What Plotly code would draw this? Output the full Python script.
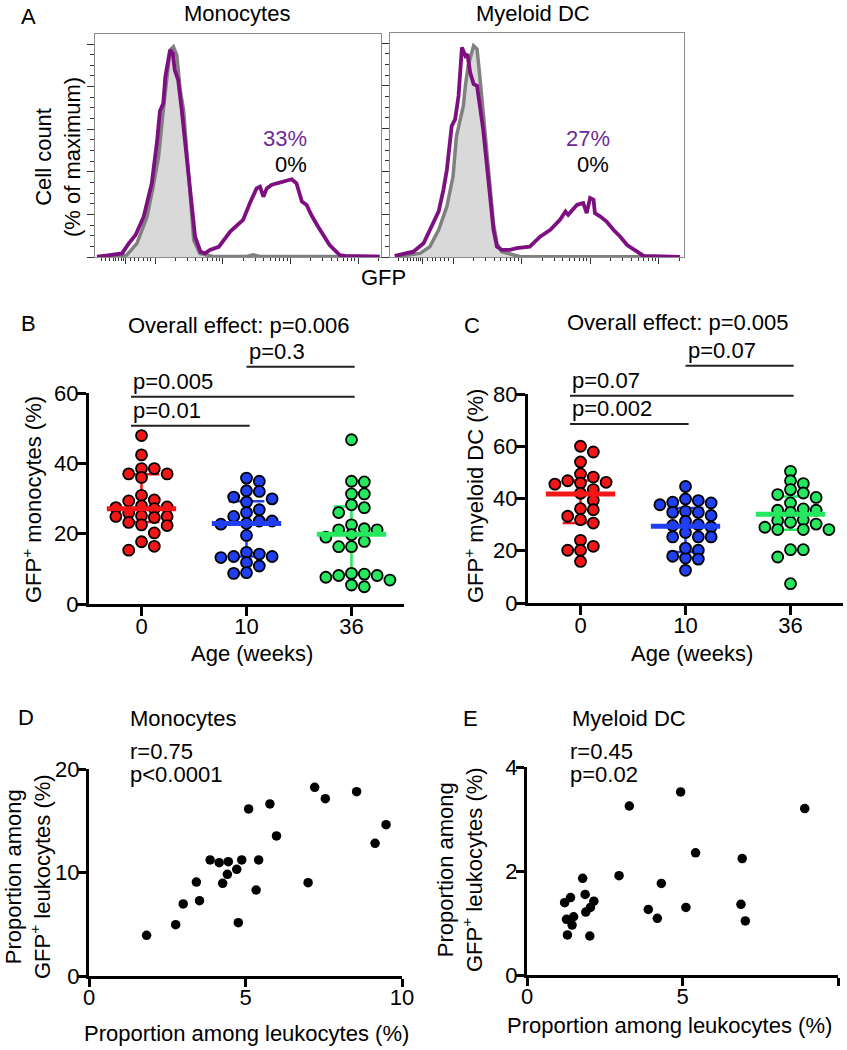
import numpy as np
import plotly.graph_objects as go

W, H = 847, 1050
FONT = "Liberation Sans, Arial, Helvetica, sans-serif"

# ---------- A: GFP histograms (x = log decades of GFP, y = % of maximum)
mono_gfp_x = [1.14, 1.51, 1.61, 1.71, 1.83, 1.88, 1.95, 2.03, 2.07, 2.12, 2.15, 2.22, 2.26, 2.29, 2.34,
              2.39, 2.44, 2.52, 2.59, 2.67, 2.74, 2.81, 2.94, 3.11, 3.30, 3.40, 3.50, 3.55, 3.60, 3.65,
              3.72, 3.80, 3.90, 4.02, 4.09, 4.17, 4.24, 4.31, 4.41, 4.51, 4.58, 4.73, 4.81, 5.32]
mono_gfp_y = [0.1, 1.7, 6.4, 10.3, 18.9, 25.2, 34.6, 54.9, 68.5, 72.2, 84.6, 97.2, 95.6, 87.8, 83.1,
              69.8, 54.9, 31.5, 9.5, 2.5, 1.7, 3.3, 4.8, 11.9, 17.4, 25.2, 32.2, 33.0, 28.3, 32.2,
              33.8, 34.6, 35.4, 36.5, 34.6, 26.0, 24.4, 19.7, 14.2, 9.5, 5.6, 0.9, 0.5, 0.2]
mono_ctrl_x = [1.14, 1.58, 1.73, 1.88, 1.97, 2.05, 2.12, 2.17, 2.22, 2.27, 2.32, 2.37, 2.42, 2.47,
               2.52, 2.57, 2.66, 2.86, 3.35, 3.45, 3.55, 5.32]
mono_ctrl_y = [0.2, 0.9, 6.4, 18.9, 33.0, 47.1, 69.0, 84.7, 97.2, 98.7, 94.8, 78.4, 69.0, 48.7,
               26.8, 8.0, 1.7, 0.2, 0.2, 1.0, 0.2, 0.2]
mdc_gfp_x = [1.15, 1.42, 1.57, 1.69, 1.79, 1.86, 1.91, 1.98, 2.03, 2.08, 2.13, 2.18, 2.21, 2.25, 2.30,
             2.35, 2.39, 2.44, 2.49, 2.54, 2.59, 2.64, 2.71, 2.83, 2.93, 3.12, 3.27, 3.42, 3.56, 3.64,
             3.68, 3.81, 3.90, 3.95, 4.00, 4.05, 4.07, 4.15, 4.24, 4.34, 4.44, 4.54, 4.68, 4.78, 5.31]
mdc_gfp_y = [0.5, 2.5, 6.4, 14.2, 21.3, 31.5, 40.8, 61.2, 64.3, 75.3, 98.0, 94.0, 94.8, 86.2, 80.8,
             80.0, 70.6, 59.6, 44.0, 28.3, 12.7, 4.8, 3.3, 3.3, 4.1, 4.8, 9.5, 12.7, 17.4, 21.3,
             19.7, 24.4, 25.2, 20.5, 27.6, 26.8, 20.5, 18.9, 16.6, 12.7, 9.5, 5.6, 2.5, 0.5, 0.1]
mdc_ctrl_x = [1.15, 1.52, 1.66, 1.79, 1.91, 2.00, 2.05, 2.15, 2.18, 2.22, 2.30, 2.35, 2.39, 2.44,
              2.49, 2.54, 2.59, 2.64, 2.71, 2.98, 5.31]
mdc_ctrl_y = [0.1, 1.7, 4.8, 12.7, 23.6, 37.7, 56.5, 70.6, 80.0, 89.3, 98.7, 97.2, 84.6, 67.5,
              51.8, 33.0, 15.8, 6.4, 2.5, 0.1, 0.1]
pct_gfp = ["33%", "27%"]
pct_ctrl = ["0%", "0%"]

# ---------- B / C: GFP+ cells by age
age_labels = ["0", "10", "36"]
mono_wk0 = [47.9, 42.4, 38.5, 38.5, 37.0, 37.0, 36.0, 30.9, 29.6, 29.3, 27.1, 27.6, 27.4, 27.9, 25.9,
            24.9, 24.6, 24.9, 25.1, 23.2, 22.3, 22.5, 20.2, 17.7, 15.3, 16.4]
mono_wk10 = [35.8, 34.9, 32.2, 32.0, 30.4, 29.0, 29.9, 26.0, 26.8, 24.9, 23.6, 23.6, 22.7, 22.9,
             19.5, 14.2, 13.5, 13.2, 13.5, 14.7, 11.8, 10.8, 8.7, 8.9]
mono_wk36 = [46.7, 34.9, 34.7, 31.3, 31.3, 28.2, 27.4, 26.0, 22.5, 21.1, 21.1, 21.4, 19.0, 19.7,
             17.8, 16.3, 16.3, 8.1, 8.7, 8.5, 8.1, 7.6, 6.8, 4.9, 5.4]
mono_median = [27.1, 22.9, 19.8]
mono_q1 = [23.3, 13.5, 8.3]
mono_q3 = [36.9, 29.2, 27.7]
mono_sig_from = [0, 0, 1]
mono_sig_to = [1, 2, 2]
mono_sig_text = ["p=0.01", "p=0.005", "p=0.3"]
mono_sig_y = [50.7, 58.9, 67.5]
mono_overall = "Overall effect: p=0.006"

mdc_wk0 = [60.0, 57.8, 54.0, 49.4, 46.2, 45.5, 46.8, 48.2, 45.9, 43.4, 42.0, 39.3, 36.1, 35.7, 33.2,
           31.9, 30.6, 24.0, 21.7, 20.2, 20.2, 15.9]
mdc_wk10 = [44.6, 39.2, 38.3, 39.8, 37.6, 38.6, 34.7, 35.1, 33.5, 34.7, 29.1, 31.3, 29.7, 27.0, 25.3,
            25.3, 25.3, 20.2, 17.9, 16.8, 17.2, 21.0, 12.5, 30.0]
mdc_wk36 = [50.4, 46.8, 45.7, 43.4, 41.5, 40.4, 42.1, 38.3, 35.5, 34.7, 35.5, 36.0, 30.2, 31.9, 31.6,
            30.9, 29.0, 28.1, 28.1, 28.1, 20.4, 20.4, 17.6, 7.4]
mdc_median = [41.7, 29.4, 34.0]
mdc_q1 = [30.6, 19.5, 28.0]
mdc_q3 = [46.9, 36.4, 40.8]
mdc_sig_from = [0, 0, 1]
mdc_sig_to = [1, 2, 2]
mdc_sig_text = ["p=0.002", "p=0.07", "p=0.07"]
mdc_sig_y = [68.5, 79.3, 90.8]
mdc_overall = "Overall effect: p=0.005"

# ---------- D / E: correlation
mono_leuko = [1.84, 2.77, 3.01, 3.43, 3.53, 3.87, 4.16, 4.27, 4.45, 4.42, 4.72, 4.77, 4.88, 5.10,
              5.34, 5.42, 5.78, 5.99, 7.00, 7.21, 7.55, 8.55, 9.14, 9.49]
mono_gfp_leuko = [3.93, 4.96, 6.96, 9.08, 7.28, 11.21, 10.95, 8.95, 11.05, 9.82, 10.31, 5.15, 11.21,
                  16.14, 8.31, 11.21, 16.62, 13.53, 9.02, 18.23, 17.13, 17.81, 12.82, 14.62]
mdc_leuko = [1.21, 1.40, 1.27, 1.50, 1.45, 1.30, 1.79, 1.87, 1.89, 2.04, 2.15, 2.02, 2.96, 3.29,
             3.90, 4.19, 4.32, 4.94, 5.11, 5.42, 6.92, 6.88, 7.02, 8.93]
mdc_gfp_leuko = [1.39, 1.49, 1.07, 1.12, 0.96, 0.77, 1.86, 1.55, 1.21, 1.30, 1.42, 0.75, 1.91, 3.25,
                 1.26, 1.09, 1.76, 3.52, 1.30, 2.35, 2.24, 1.36, 1.04, 3.20]

GROUP_COLORS = ["#f21616", "#1f3ff0", "#25e85f"]
PURPLE = "#7e0f80"

# subplot boxes in pixels: left, right, top, bottom
boxes = {
    "A1": (95, 381, 34, 257),
    "A2": (390, 684, 33, 257),
    "B": (89, 404, 393, 604),
    "C": (528, 843, 394, 603),
    "D": (89, 402, 769, 976),
    "E": (527, 838, 767, 975),
}
ranges = {
    "A1": ([1.11, 5.34], [0, 104.7]),
    "A2": ([1.08, 5.37], [0, 104.7]),
    "B": ([-0.5, 2.5], [0, 60]),
    "C": ([-0.5, 2.5], [0, 80]),
    "D": ([0, 10], [0, 20]),
    "E": ([0, 10], [0, 4]),
}
axid = {"A1": "", "A2": "2", "B": "3", "C": "4", "D": "5", "E": "6"}


def dom(key):
    x0, x1, y0, y1 = boxes[key]
    return [x0 / W, x1 / W], [1 - y1 / H, 1 - y0 / H]


def to_paper(key, x, y):
    x0, x1, y0, y1 = boxes[key]
    xr, yr = ranges[key]
    px = x0 + (x - xr[0]) / (xr[1] - xr[0]) * (x1 - x0)
    py = y1 - (y - yr[0]) / (yr[1] - yr[0]) * (y1 - y0)
    return px / W, 1 - py / H


def swarm(vals, center, key, step=0.122, diam=8.5):
    # simple beeswarm: columns of width `step`, avoid overlaps closer than `diam` px
    x0, x1, y0, y1 = boxes[key]
    xr, yr = ranges[key]
    sx = (x1 - x0) / (xr[1] - xr[0])
    sy = (y1 - y0) / (yr[1] - yr[0])
    placed = []
    xs = [center] * len(vals)
    for i in sorted(range(len(vals)), key=lambda k: -vals[k]):
        k = 0
        chosen = None
        while chosen is None:
            for off in ([0] if k == 0 else [k, -k]):
                if all(((off - o) * step * sx) ** 2 + ((vals[i] - v) * sy) ** 2 >= diam ** 2
                       for o, v in placed):
                    chosen = off
                    break
            k += 1
        placed.append((chosen, vals[i]))
        xs[i] = center + chosen * step
    return xs


fig = go.Figure()

# ---- A
hist_sets = [("A1", mono_ctrl_x, mono_ctrl_y, mono_gfp_x, mono_gfp_y),
             ("A2", mdc_ctrl_x, mdc_ctrl_y, mdc_gfp_x, mdc_gfp_y)]
for key, cx, cy, gx, gy in hist_sets:
    a = axid[key]
    fig.add_trace(go.Scatter(x=cx, y=cy, mode="lines", fill="tozeroy", fillcolor="#d9d9d9",
                             line=dict(color="#808080", width=3.5), xaxis="x" + a, yaxis="y" + a))
    fig.add_trace(go.Scatter(x=gx, y=gy, mode="lines", line=dict(color=PURPLE, width=3.8),
                             xaxis="x" + a, yaxis="y" + a))

major_t = [1.56, 2, 3, 4, 5]
minor_t = [1.2, 1.27, 1.33, 1.38, 1.42, 1.46, 1.5, 1.53, 1.63, 1.7, 1.75, 1.82, 1.88, 1.93]
for d in [2, 3, 4, 5]:
    for m in range(2, 10):
        v = d + np.log10(m)
        if v < 5.33:
            minor_t.append(round(float(v), 3))

# ---- B, C
panel_groups = {"B": [mono_wk0, mono_wk10, mono_wk36], "C": [mdc_wk0, mdc_wk10, mdc_wk36]}
panel_stats = {"B": (mono_median, mono_q1, mono_q3), "C": (mdc_median, mdc_q1, mdc_q3)}
for key in ["B", "C"]:
    a = axid[key]
    med, q1, q3 = panel_stats[key]
    for g, vals in enumerate(panel_groups[key]):
        col = GROUP_COLORS[g]
        cap = 0.17
        fig.add_trace(go.Scatter(
            x=[g, g, None, g - cap, g + cap, None, g - cap, g + cap],
            y=[q1[g], q3[g], None, q1[g], q1[g], None, q3[g], q3[g]],
            mode="lines", line=dict(color=col, width=2.5), xaxis="x" + a, yaxis="y" + a))
        fig.add_trace(go.Scatter(
            x=swarm(vals, g, key), y=vals, mode="markers", cliponaxis=False,
            marker=dict(size=11, color=col, line=dict(color="black", width=1.8)),
            xaxis="x" + a, yaxis="y" + a))
        fig.add_trace(go.Scatter(
            x=[g - 0.33, g + 0.33], y=[med[g], med[g]], mode="lines",
            line=dict(color=col, width=5), xaxis="x" + a, yaxis="y" + a))

# ---- D, E
for key, xs, ys in [("D", mono_leuko, mono_gfp_leuko), ("E", mdc_leuko, mdc_gfp_leuko)]:
    a = axid[key]
    fig.add_trace(go.Scatter(x=xs, y=ys, mode="markers", cliponaxis=False,
                             marker=dict(size=9.5, color="black"), xaxis="x" + a, yaxis="y" + a))

# ---- axes
layout_axes = {}
frame = dict(showline=True, mirror=True, linecolor="#8c8c8c", linewidth=1.2, showgrid=False,
             zeroline=False, showticklabels=False, automargin=False)
for key in ["A1", "A2"]:
    a = axid[key]
    xd, yd = dom(key)
    layout_axes["xaxis" + a] = dict(
        frame, domain=xd, range=ranges[key][0], anchor="y" + a, ticks="outside", ticklen=6,
        tickwidth=1, tickcolor="#333", tickmode="array", tickvals=major_t,
        minor=dict(ticks="outside", ticklen=3, tickwidth=1, tickcolor="#333",
                   tickmode="array", tickvals=minor_t))
    layout_axes["yaxis" + a] = dict(
        frame, domain=yd, range=ranges[key][1], anchor="x" + a, ticks="outside", ticklen=7,
        tickwidth=1, tickcolor="#333", tick0=0, dtick=20,
        minor=dict(ticks="outside", ticklen=4, tickwidth=1, tickcolor="#333", dtick=5))

prism = dict(showline=True, linecolor="black", linewidth=3, ticks="outside", ticklen=9,
             tickwidth=3, tickcolor="black", showgrid=False, zeroline=False, automargin=False,
             tickfont=dict(size=22, color="black", family=FONT))
ytick_step = {"B": 20, "C": 20, "D": 10, "E": 2}
for key in ["B", "C", "D", "E"]:
    a = axid[key]
    xd, yd = dom(key)
    if key in ("B", "C"):
        xa = dict(prism, tickmode="array", tickvals=[0, 1, 2], ticktext=age_labels)
    else:
        xa = dict(prism, tick0=0, dtick=5, ticklen=8)
    layout_axes["xaxis" + a] = dict(xa, domain=xd, range=ranges[key][0], anchor="y" + a,
                                    ticklabelstandoff=-8)
    layout_axes["yaxis" + a] = dict(prism, domain=yd, range=ranges[key][1], anchor="x" + a,
                                    tick0=0, dtick=ytick_step[key], ticklabelstandoff=-6,
                                    ticklen=9 if key in ("B", "C") else 8)

fig.update_layout(**layout_axes)


# ---- text
def note(px, py, text, size=22, color="black", xanchor="center", angle=0):
    fig.add_annotation(x=px / W, y=1 - py / H, xref="paper", yref="paper", text=text,
                       showarrow=False, xanchor=xanchor, yanchor="middle", textangle=angle,
                       font=dict(size=size, color=color, family=FONT))


for lab, px, py in [("A", 28, 16), ("B", 28, 324), ("C", 472, 325), ("D", 26, 717), ("E", 470, 718)]:
    note(px, py, lab)

note(237, 13, "Monocytes")
note(533, 13, "Myeloid DC")
note(58, 157, "Cell count<br>(% of maximum)", angle=-90)
note(383, 277, "GFP")
note(309, 138, pct_gfp[0], color="#6f2a96", xanchor="right")
note(309, 164, pct_ctrl[0], xanchor="right")
note(612, 138, pct_gfp[1], color="#6f2a96", xanchor="right")
note(611, 164, pct_ctrl[1], xanchor="right")

note(32, 500, "GFP<sup>+</sup> monocytes (%)", angle=-90)
note(474, 496, "GFP<sup>+</sup> myeloid DC (%)", angle=-90)
note(252, 653, "Age (weeks)")
note(692, 653, "Age (weeks)")

sig_sets = {"B": (mono_sig_from, mono_sig_to, mono_sig_text, mono_sig_y),
            "C": (mdc_sig_from, mdc_sig_to, mdc_sig_text, mdc_sig_y)}
for key, (fr, to, txt, ys) in sig_sets.items():
    for a0, a1, t, yv in zip(fr, to, txt, ys):
        x0p, yp = to_paper(key, a0 - 0.1 if a0 == 0 else a0, yv)
        x1p, _ = to_paper(key, a1 + 0.03, yv)
        fig.add_shape(type="line", xref="paper", yref="paper", x0=x0p, x1=x1p, y0=yp, y1=yp,
                      line=dict(color="#222", width=2))
        fig.add_annotation(x=x0p, y=yp, xref="paper", yref="paper", text=t, showarrow=False,
                           xanchor="left", yanchor="bottom", yshift=1,
                           font=dict(size=22, color="black", family=FONT))

note(239, 325, mono_overall)
note(678, 322, mdc_overall)

note(128, 718, "Monocytes", xanchor="left")
note(128, 751, "r=0.75", xanchor="left")
note(128, 774, "p<0.0001", xanchor="left")
note(570, 718, "Myeloid DC", xanchor="left")
note(568, 751, "r=0.45", xanchor="left")
note(568, 774, "p=0.02", xanchor="left")
note(28, 877, "Proportion among<br>GFP<sup>+</sup> leukocytes (%)", angle=-90)
note(460, 870, "Proportion among<br>GFP<sup>+</sup> leukocytes (%)", angle=-90)
note(246, 1033, "Proportion among leukocytes (%)")
note(669, 1025, "Proportion among leukocytes (%)")

fig.update_layout(width=W, height=H, margin=dict(l=0, r=0, t=0, b=0, autoexpand=False),
                  showlegend=False, plot_bgcolor="white", paper_bgcolor="white",
                  font=dict(family=FONT, size=22, color="black"))
fig.write_html("out.html", config={"displayModeBar": False},
               post_script="document.body.style.margin='0';document.body.style.overflow='hidden';")
